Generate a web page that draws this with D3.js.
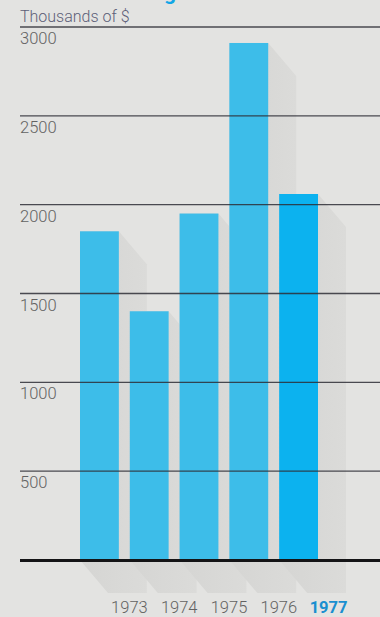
<!DOCTYPE html>
<html>
<head>
<meta charset="utf-8">
<script src="https://cdn.jsdelivr.net/npm/d3@7"></script>
<style>
  html, body { margin: 0; padding: 0; background: #e3e3e1; }
  svg { display: block; }
  text { font-family: Roboto, "Liberation Sans", sans-serif; }
</style>
</head>
<body>
<svg id="chart" width="380" height="617"></svg>
<script>
// Annual totals, thousands of dollars
const years = ["1973", "1974", "1975", "1976", "1977"];
const values = [1850, 1400, 1950, 2910, 2060];
const yTicks = [500, 1000, 1500, 2000, 2500, 3000];
const highlightYear = "1977";

const W = 380, H = 617;
const svg = d3.select("#chart");

const y = d3.scaleLinear().domain([0, 3000]).range([560, 27]);
const x = d3.scaleBand().domain(years).range([80, 318]).paddingInner(0.22).paddingOuter(0);

// depth offset of the cast shadow
const dx = 28, dy = 33;

const defs = svg.append("defs");
const grad = defs.append("linearGradient").attr("id", "shade").attr("x1", 0).attr("x2", 1).attr("y1", 0).attr("y2", 0);
grad.append("stop").attr("offset", "0%").attr("stop-color", "#d5d5d3");
grad.append("stop").attr("offset", "100%").attr("stop-color", "#dbdbd9");

// Title (runs off the top edge)
svg.append("text")
  .attr("x", 176).attr("y", 0)
  .attr("text-anchor", "end")
  .attr("font-size", 21).attr("font-weight", 700)
  .attr("fill", "#12a6e6")
  .text("Total Funding");

// Unit label
svg.append("text")
  .attr("x", 20).attr("y", 22)
  .attr("font-size", 16).attr("font-weight", 300)
  .attr("fill", "#5d5f78")
  .text("Thousands of $");

const data = years.map((yr, i) => ({ year: yr, value: values[i] }));
const base = y(0);

// Extruded shadows behind each bar
svg.append("g").selectAll("path").data(data).join("path")
  .attr("fill", "url(#shade)")
  .attr("d", d => {
    const x0 = x(d.year), x1 = x0 + x.bandwidth(), y0 = y(d.value);
    return d3.line()([
      [x0, y0], [x1, y0], [x1 + dx, y0 + dy], [x1 + dx, base + dy],
      [x0 + dx, base + dy], [x0, base]
    ]) + "Z";
  });

// Bars
svg.append("g").selectAll("rect").data(data).join("rect")
  .attr("x", d => x(d.year))
  .attr("y", d => y(d.value))
  .attr("width", x.bandwidth())
  .attr("height", d => base - y(d.value))
  .attr("fill", d => d.year === highlightYear ? "#0cb2ef" : "#3dbde9");

// Gridlines and their labels
const grid = svg.append("g");
grid.selectAll("line").data(yTicks).join("line")
  .attr("x1", 20).attr("x2", W)
  .attr("y1", d => y(d)).attr("y2", d => y(d))
  .attr("stroke", "#2e2e36").attr("stroke-width", 1.4).attr("stroke-opacity", 0.85);
grid.selectAll("text").data(yTicks).join("text")
  .attr("x", 20).attr("y", d => y(d) + 17)
  .attr("font-size", 16.5).attr("font-weight", 300)
  .attr("fill", "#626262")
  .text(d => d);

// Baseline
svg.append("line")
  .attr("x1", 20).attr("x2", W)
  .attr("y1", base + 0.5).attr("y2", base + 0.5)
  .attr("stroke", "#141416").attr("stroke-width", 3);

// Year labels
svg.append("g").selectAll("text").data(years).join("text")
  .attr("x", d => x(d) + x.bandwidth() / 2 + 30)
  .attr("y", 613)
  .attr("text-anchor", "middle")
  .attr("font-size", 16.5)
  .attr("font-weight", d => d === highlightYear ? 700 : 300)
  .attr("fill", d => d === highlightYear ? "#1a8fd0" : "#626262")
  .text(d => d);
</script>
</body>
</html>
